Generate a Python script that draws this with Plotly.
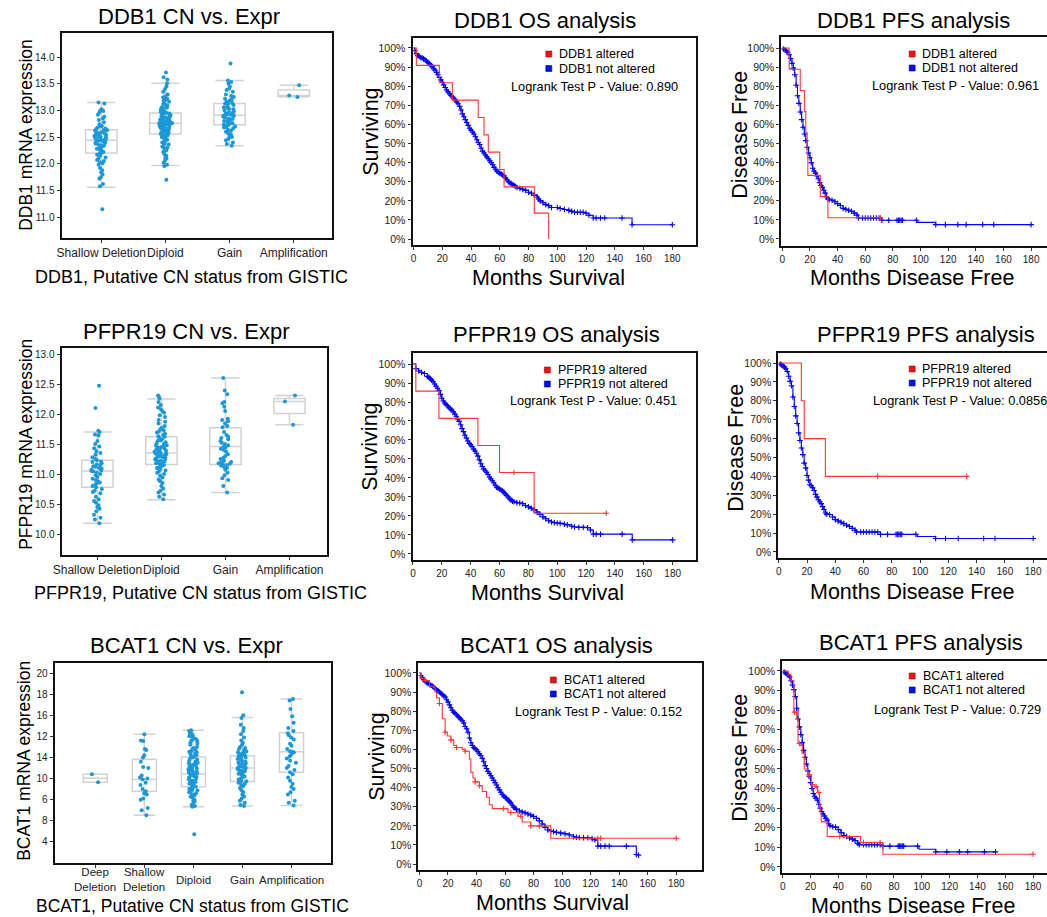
import plotly.graph_objects as go

W, H = 1047, 917
FONT = "Liberation Sans, Arial, Helvetica, sans-serif"
RED = "#ff3636"
BLUE = "#0000ff"
DOT = "#1a98da"

# ------------------------------------------------------------------ data
genes = ["DDB1", "PFPR19", "BCAT1"]
os_pvalues = ["0.890", "0.451", "0.152"]
pfs_pvalues = ["0.961", "0.0856", "0.729"]

cats4 = ["Shallow Deletion", "Diploid", "Gain", "Amplification"]
cats5 = ["Deep Deletion", "Shallow Deletion", "Diploid", "Gain", "Amplification"]
cats5_labels = ["Deep<br>Deletion", "Shallow<br>Deletion", "Diploid", "Gain", "Amplification"]

# DDB1 copy number vs expression
ddb1_q1 = [12.20, 12.56, 12.73, 13.26]
ddb1_med = [12.44, 12.76, 12.91, 13.28]
ddb1_q3 = [12.64, 12.95, 13.13, 13.38]
ddb1_lo = [11.56, 11.97, 12.34, 13.25]
ddb1_hi = [13.15, 13.51, 13.56, 13.47]
ddb1_shallow = [13.15, 13.13, 13.02, 13.0, 12.99, 12.96, 12.92, 12.88, 12.85, 12.82, 12.78, 12.74,
                12.71, 12.70, 12.68, 12.66, 12.65, 12.64, 12.63, 12.62, 12.60, 12.59, 12.58, 12.57,
                12.56, 12.55, 12.54, 12.53, 12.52, 12.51, 12.50, 12.49, 12.48, 12.47, 12.46, 12.45,
                12.44, 12.43, 12.42, 12.41, 12.40, 12.39, 12.38, 12.37, 12.35, 12.34, 12.32, 12.30,
                12.28, 12.26, 12.24, 12.22, 12.20, 12.19, 12.17, 12.15, 12.12, 12.10, 12.07, 12.05,
                12.03, 12.01, 11.98, 11.92, 11.88, 11.84, 11.80, 11.75, 11.72, 11.62, 11.58, 11.15]
ddb1_diploid = [13.71, 13.62, 13.58, 13.51, 13.45, 13.40, 13.35, 13.30, 13.26, 13.24, 13.22, 13.20,
                13.18, 13.16, 13.14, 13.12, 13.10, 13.09, 13.08, 13.06, 13.05, 13.04, 13.02, 13.01,
                13.00, 12.99, 12.98, 12.97, 12.96, 12.95, 12.94, 12.93, 12.92, 12.91, 12.90, 12.89,
                12.88, 12.87, 12.86, 12.85, 12.84, 12.83, 12.82, 12.82, 12.81, 12.80, 12.80, 12.79,
                12.78, 12.78, 12.77, 12.77, 12.76, 12.76, 12.75, 12.75, 12.74, 12.74, 12.73, 12.72,
                12.72, 12.71, 12.70, 12.70, 12.69, 12.68, 12.67, 12.66, 12.65, 12.64, 12.63, 12.62,
                12.61, 12.60, 12.59, 12.58, 12.57, 12.56, 12.55, 12.54, 12.53, 12.52, 12.51, 12.50,
                12.48, 12.46, 12.45, 12.43, 12.42, 12.40, 12.38, 12.36, 12.34, 12.32, 12.30, 12.28,
                12.25, 12.22, 12.18, 12.15, 12.12, 12.10, 12.06, 12.02, 11.98, 11.96, 11.70]
ddb1_gain = [13.88, 13.56, 13.53, 13.50, 13.45, 13.41, 13.38, 13.35, 13.30, 13.27, 13.25, 13.22,
             13.20, 13.18, 13.16, 13.14, 13.13, 13.12, 13.10, 13.08, 13.06, 13.05, 13.03, 13.02,
             13.00, 12.98, 12.97, 12.95, 12.94, 12.93, 12.92, 12.91, 12.90, 12.89, 12.88, 12.87,
             12.85, 12.84, 12.82, 12.81, 12.80, 12.78, 12.77, 12.76, 12.75, 12.74, 12.73, 12.72,
             12.70, 12.69, 12.68, 12.66, 12.64, 12.62, 12.60, 12.57, 12.55, 12.52, 12.50, 12.47,
             12.44, 12.40, 12.37, 12.34]
ddb1_amp = [13.47, 13.28, 13.25]

# PFPR19 copy number vs expression
pfpr19_q1 = [10.78, 11.16, 11.16, 12.01]
pfpr19_med = [11.05, 11.35, 11.46, 12.21]
pfpr19_q3 = [11.23, 11.62, 11.77, 12.26]
pfpr19_lo = [10.18, 10.57, 10.69, 11.82]
pfpr19_hi = [11.70, 12.25, 12.60, 12.31]
pfpr19_shallow = [12.47, 12.10, 11.72, 11.70, 11.66, 11.64, 11.55, 11.50, 11.46, 11.43, 11.38, 11.35,
                  11.32, 11.28, 11.25, 11.23, 11.21, 11.20, 11.18, 11.16, 11.15, 11.13, 11.12, 11.10,
                  11.09, 11.07, 11.06, 11.05, 11.04, 11.02, 11.00, 10.98, 10.95, 10.92, 10.90, 10.88,
                  10.86, 10.85, 10.83, 10.80, 10.78, 10.75, 10.72, 10.70, 10.68, 10.62, 10.58, 10.55,
                  10.52, 10.48, 10.45, 10.42, 10.38, 10.32, 10.27, 10.24, 10.18]
pfpr19_diploid = [12.31, 12.29, 12.26, 12.20, 12.15, 12.11, 12.08, 12.05, 12.02, 11.98, 11.95, 11.90,
                  11.87, 11.84, 11.80, 11.77, 11.75, 11.73, 11.71, 11.69, 11.67, 11.65, 11.63, 11.62,
                  11.60, 11.58, 11.56, 11.55, 11.53, 11.51, 11.50, 11.48, 11.47, 11.46, 11.45, 11.44,
                  11.42, 11.41, 11.40, 11.39, 11.38, 11.37, 11.36, 11.35, 11.35, 11.34, 11.33, 11.32,
                  11.31, 11.30, 11.29, 11.28, 11.27, 11.26, 11.25, 11.24, 11.23, 11.22, 11.21, 11.20,
                  11.19, 11.18, 11.17, 11.16, 11.15, 11.13, 11.12, 11.10, 11.08, 11.06, 11.04, 11.02,
                  11.00, 10.97, 10.94, 10.91, 10.88, 10.85, 10.80, 10.76, 10.72, 10.69, 10.66, 10.62,
                  10.58]
pfpr19_gain = [12.60, 12.39, 12.33, 12.20, 12.18, 12.12, 12.05, 11.92, 11.90, 11.88, 11.84, 11.80,
               11.78, 11.70, 11.65, 11.62, 11.60, 11.58, 11.55, 11.52, 11.50, 11.48, 11.46, 11.44,
               11.42, 11.40, 11.37, 11.33, 11.30, 11.27, 11.25, 11.22, 11.20, 11.19, 11.18, 11.17,
               11.16, 11.15, 11.14, 11.12, 11.10, 11.07, 11.02, 10.98, 10.93, 10.90, 10.80, 10.69]
pfpr19_amp = [12.31, 12.21, 11.82]

# BCAT1 copy number vs expression (values on the plotted axis scale)
bcat1_q1 = [9.64, 8.81, 9.23, 9.73, 10.59]
bcat1_med = [10.02, 9.92, 10.43, 11.00, 12.55]
bcat1_q3 = [10.40, 11.82, 12.05, 12.17, 14.33]
bcat1_lo = [9.64, 6.53, 7.33, 7.39, 7.45]
bcat1_hi = [10.40, 14.20, 14.58, 15.79, 17.53]
bcat1_deep = [10.40, 9.64]
bcat1_shallow = [14.2, 13.6, 13.55, 12.8, 12.7, 12.2, 12.0, 11.6, 11.1, 11.0, 10.3, 10.1, 10.0, 9.9,
                 9.6, 9.4, 9.0, 8.8, 8.6, 8.5, 8.1, 8.0, 7.2, 7.0, 6.53]
bcat1_diploid = [14.58, 14.5, 14.4, 14.3, 14.2, 14.1, 14.0, 13.9, 13.8, 13.7, 13.6, 13.5, 13.4, 13.3,
                 13.2, 13.0, 12.9, 12.8, 12.7, 12.6, 12.55, 12.5, 12.4, 12.3, 12.2, 12.1, 12.05, 12.0,
                 11.9, 11.8, 11.7, 11.6, 11.5, 11.45, 11.4, 11.3, 11.25, 11.2, 11.1, 11.0, 10.95, 10.9,
                 10.85, 10.8, 10.7, 10.65, 10.6, 10.5, 10.45, 10.4, 10.35, 10.3, 10.2, 10.15, 10.1,
                 10.0, 9.9, 9.85, 9.8, 9.7, 9.6, 9.55, 9.5, 9.4, 9.3, 9.25, 9.2, 9.1, 9.0, 8.95, 8.9,
                 8.8, 8.7, 8.6, 8.5, 8.4, 8.3, 8.2, 8.0, 7.9, 7.8, 7.6, 7.5, 7.4, 7.33, 4.73]
bcat1_gain = [18.19, 16.0, 15.75, 15.1, 14.8, 14.5, 14.2, 13.9, 13.6, 13.4, 13.2, 13.0, 12.9, 12.8,
              12.7, 12.6, 12.5, 12.45, 12.4, 12.3, 12.2, 12.15, 12.1, 12.0, 11.9, 11.85, 11.8, 11.7,
              11.6, 11.5, 11.45, 11.4, 11.3, 11.2, 11.15, 11.1, 11.05, 11.0, 10.95, 10.9, 10.8, 10.75,
              10.7, 10.6, 10.5, 10.45, 10.4, 10.3, 10.2, 10.1, 10.0, 9.9, 9.8, 9.75, 9.7, 9.6, 9.5,
              9.4, 9.3, 9.1, 8.9, 8.7, 8.5, 8.3, 8.1, 7.9, 7.7, 7.5, 7.4]
bcat1_amp = [17.53, 17.4, 16.6, 15.9, 15.3, 14.8, 14.5, 14.3, 14.1, 13.9, 13.7, 13.3, 13.1, 12.8,
             12.6, 12.55, 12.5, 12.3, 12.1, 11.9, 11.7, 11.5, 11.2, 11.0, 10.8, 10.6, 10.4, 10.1,
             9.8, 9.5, 9.2, 9.0, 8.7, 8.5, 7.9, 7.7, 7.45]
bcat1_tickvals = [20, 18, 16, 14, 12, 10, 8, 6, 4]
bcat1_ticktext = ["20", "18", "16", "12", "14", "10", "6", "8", "4"]

# Kaplan-Meier curves: time (months), survival (%), censor flag string (1 = censor mark)
ddb1_os_alt_t = [0, 2, 18, 27, 45, 49, 52, 60, 63, 84, 94]
ddb1_os_alt_s = [100, 90.9, 81.8, 72.7, 63.6, 54.5, 45.5, 36.4, 27.3, 13.6, 0]
ddb1_os_alt_c = "00000000000"
ddb1_os_not_t = [0, 1, 2, 3, 4, 5, 6, 7, 8, 9, 10, 11, 12, 13, 14, 15, 16, 17, 18, 19, 20, 21, 22, 23,
                 24, 25, 26, 27, 28, 29, 30, 31, 32, 33, 34, 35, 36, 37, 38, 39, 40, 41, 42, 43, 44,
                 45, 46, 47, 48, 49, 50, 51, 52, 53, 54, 55, 56, 57, 58, 59, 60, 61, 62, 63, 64, 65,
                 66, 67, 68, 69, 70, 71, 72, 74, 76, 78, 80, 82, 84, 86, 87, 88, 90, 92, 94, 96, 100,
                 102, 105, 108, 110, 112, 114, 116, 118, 120, 122, 125, 127, 130, 133, 145, 151, 152, 180]
ddb1_os_not_s = [100, 98.5, 97, 96, 95.5, 95, 94.8, 94.3, 93.8, 93.2, 92.5, 91.8, 91, 90.2, 89.2, 88.3,
                 87.2, 86, 84.6, 83.3, 82, 80.6, 79.3, 78, 77, 76, 75.2, 74.5, 73.6, 72.8, 71.8, 70.8,
                 69.5, 67.5, 65.5, 64, 62.5, 61, 59.5, 58, 57, 56, 55, 53.5, 52, 50.5, 49.5, 47.5, 46,
                 45, 44, 43, 42, 41, 40, 39, 37.5, 36.5, 35.5, 35, 34.5, 34, 33.5, 33, 32, 31, 30, 29.5,
                 29, 28.5, 28, 27.5, 27, 26.5, 26, 25.5, 24.5, 24, 23, 22, 21, 20, 19, 18, 17.5, 16.5,
                 16.5, 16, 15.5, 15, 14.5, 14, 14, 14, 14, 13.5, 12.5, 11, 11, 11, 11, 11, 11, 7.5, 7.5]
ddb1_os_not_c = "0111111111 1111111111 1111111111 1111111111 1111111111 1111111111 1111111111 1111111111 1111111111 1111111111 11011"

ddb1_pfs_alt_t = [0, 5, 13, 16, 17, 18, 18.5, 27.5, 33, 71]
ddb1_pfs_alt_s = [100, 88.9, 77.8, 66.7, 55.6, 44.4, 33.3, 22.2, 11.1, 11.1]
ddb1_pfs_alt_c = "0000000001"
ddb1_pfs_not_t = [0, 1, 2, 3, 4, 5, 6, 7, 8, 9, 10, 11, 12, 13, 14, 15, 16, 17, 18, 19, 20, 21, 22, 23,
                  24, 25, 26, 27, 28, 29, 30, 31, 32, 33, 34, 36, 38, 40, 42, 44, 46, 48, 50, 52, 54,
                  55, 58, 60, 62, 64, 66, 68, 70, 72, 77, 83, 84, 85, 86, 87, 97, 98, 111, 118, 127,
                  133, 145, 153, 180]
ddb1_pfs_not_s = [100, 99.5, 99, 98.5, 97.8, 96.5, 94.5, 92, 89.5, 86, 80.5, 75, 71, 66.5, 62.5, 58.5,
                  55, 51.5, 48, 45, 42.5, 40, 37, 35.5, 34.5, 33, 31.5, 29.5, 28, 27, 25.5, 24, 22, 21,
                  20.5, 20.3, 19.5, 18.5, 17.5, 16, 15.5, 15, 14.5, 13.5, 12.5, 11, 11, 11, 11, 11, 11,
                  11, 11, 9.8, 9.8, 9.8, 9.8, 9.8, 9.8, 9.8, 9.8, 8.7, 7.5, 7.5, 7.5, 7.5, 7.5, 7.5, 7.5]
ddb1_pfs_not_c = "0111111111 1111111111 1111111111 1111111111 1111111111 1111111111 101111111"

pfpr19_os_alt_t = [0, 2, 18, 45, 60, 70, 84, 134]
pfpr19_os_alt_s = [100, 85.7, 71.4, 57.1, 42.9, 42.9, 21.4, 21.4]
pfpr19_os_alt_c = "00000101"
pfpr19_os_not_t = [0, 2, 4, 6, 8, 10, 11, 12, 13, 14, 15, 16, 17, 18, 19, 20, 21, 22, 23, 24, 25, 26,
                   27, 28, 29, 30, 31, 32, 33, 34, 35, 36, 37, 38, 39, 40, 41, 42, 43, 44, 45, 46, 47,
                   48, 49, 50, 51, 52, 53, 54, 55, 56, 57, 58, 59, 60, 61, 62, 63, 64, 65, 66, 67, 68,
                   69, 70, 72, 74, 76, 78, 80, 82, 84, 86, 88, 90, 92, 94, 96, 98, 100, 102, 105, 107,
                   110, 112, 115, 118, 121, 123, 125, 127, 130, 145, 151, 152, 180]
pfpr19_os_not_s = [100, 97.5, 96.3, 95.5, 95, 93.5, 93, 92.3, 91.5, 90.7, 89.5, 88.3, 87.2, 86, 84, 82,
                   80.5, 79.5, 78.6, 78, 77, 76.4, 75.8, 74.8, 73.6, 72.5, 71, 69.8, 68, 66, 64.4, 62.5,
                   61, 59.5, 58.2, 57.5, 56.5, 55.2, 54.2, 53, 51.5, 49.5, 47.5, 46, 44.8, 43.8, 43,
                   41.8, 40.5, 39.5, 38.5, 37.5, 36.2, 35.2, 34.6, 34.2, 33.8, 33.2, 32.4, 31.6, 30.8,
                   30, 29, 28.4, 27.8, 27.5, 27, 26.8, 26.4, 25.5, 24.8, 24, 23.2, 22, 20.8, 19.5, 18.5,
                   17.5, 16.8, 16.5, 16.3, 16.1, 15.6, 15.3, 14.6, 14.2, 14, 14, 13.8, 12.6, 10.4, 10.4,
                   10.4, 10.4, 10.4, 7.4, 7.4]
pfpr19_os_not_c = "0111111111 1111111111 1111111111 1111111111 1111111111 1111111111 1111111111 1111111111 1111111111 1111011"

pfpr19_pfs_alt_t = [0, 16, 18, 33, 70, 133]
pfpr19_pfs_alt_s = [100, 80, 60, 40, 40, 40]
pfpr19_pfs_alt_c = "000011"
pfpr19_pfs_not_t = [0, 1, 2, 3, 4, 5, 6, 7, 8, 9, 10, 11, 12, 13, 14, 15, 16, 17, 18, 19, 20, 21, 22,
                    23, 24, 25, 26, 27, 28, 29, 30, 31, 32, 33, 34, 36, 38, 40, 42, 44, 46, 48, 50, 52,
                    54, 55, 58, 60, 62, 64, 66, 68, 70, 72, 77, 83, 84, 85, 86, 87, 97, 98, 111, 118,
                    127, 145, 153, 180]
pfpr19_pfs_not_s = [100, 99.5, 99, 98.5, 97.8, 97, 95.5, 93, 90.3, 88, 82, 77, 72, 68, 63, 59, 55, 51.5,
                    47, 44.5, 40.5, 38, 35.6, 35, 34, 32.5, 30.5, 29, 27.7, 26.6, 25.6, 24, 22.5, 20.6,
                    20, 19.8, 18.5, 17.1, 16.3, 15.7, 15, 14.1, 13.5, 12.5, 11.5, 10.6, 10.6, 10.6,
                    10.6, 10.6, 10.6, 10.6, 10.6, 9.3, 9.3, 9.3, 9.3, 9.3, 9.3, 9.3, 9.3, 8.2, 7.1, 7.1,
                    7.1, 7.1, 7.1, 7.1]
pfpr19_pfs_not_c = "0111111111 1111111111 1111111111 1111111111 1111111111 1111111111 10111111"

bcat1_os_alt_t = [0, 1, 4, 7, 10, 11, 12, 14, 16, 18, 19.5, 22, 24, 26, 30, 32, 34, 35, 36, 37.5, 39,
                  42, 44, 47, 49, 51, 59, 62, 64, 69, 71, 72, 78, 84, 92, 125, 127, 180]
bcat1_os_alt_s = [100, 97, 96, 93, 92.5, 90, 87, 84, 76, 69, 67, 65, 62, 61, 60, 59, 59, 55, 48, 45, 43,
                  41, 38, 35, 31, 29, 29, 27, 27, 25, 25, 22, 20, 20, 13.5, 13.5, 13.5, 13.5]
bcat1_os_alt_c = "0010000101 0101010000 1100001010 10110111"
bcat1_os_not_t = [0, 1, 2, 3, 4, 5, 6, 7, 8, 9, 10, 11, 12, 13, 14, 15, 16, 17, 18, 19, 20, 21, 22, 23,
                  24, 25, 26, 27, 28, 29, 30, 31, 32, 33, 34, 35, 36, 37, 38, 39, 40, 41, 42, 43, 44,
                  45, 46, 47, 48, 49, 50, 51, 52, 53, 54, 55, 56, 57, 58, 59, 60, 61, 62, 63, 64, 65,
                  66, 67, 68, 70, 72, 74, 76, 78, 80, 82, 84, 86, 88, 90, 92, 94, 96, 99, 102, 105,
                  108, 110, 112, 115, 118, 121, 123, 125, 127, 130, 133, 145, 151, 152, 153.5]
bcat1_os_not_s = [100, 98.5, 97.4, 96.5, 95.6, 95, 94.5, 94, 93.6, 93.2, 92.5, 91.8, 91.2, 90.6, 90,
                  89.4, 88.7, 88, 87.4, 86, 84.8, 83.3, 81.8, 80.5, 79.5, 78.8, 78.1, 77.2, 76.6, 75.8,
                  75, 73.8, 72, 70.8, 69, 66, 63.5, 62, 61, 60.4, 59.8, 58.8, 57.8, 56.8, 55.4, 53.5,
                  51.5, 50, 48.4, 47.5, 46.2, 45, 43.8, 42.6, 41.4, 40, 38.8, 37.6, 36.4, 35.6, 34.9,
                  34.4, 33.6, 32.8, 32, 30.8, 29.8, 29.2, 28.6, 27.8, 27.2, 26.8, 26.2, 25.6, 24.9, 24,
                  22.6, 21, 19.2, 17.8, 17.3, 17, 16.6, 16.2, 15.8, 15.2, 14.3, 14, 13.9, 13.8, 13.8,
                  13.2, 12.6, 9.4, 9.4, 9.4, 9.4, 9.4, 9.4, 5, 4.7]
bcat1_os_not_c = "0111111111 1111111111 1111111111 1111111111 1111111111 1111111111 1111111111 1111111111 1111111111 1111111101 1"

bcat1_pfs_alt_t = [0, 4, 6, 8, 8.5, 10, 11, 12, 13, 14, 15.5, 18, 19, 20.5, 23, 24, 25, 26, 26.5, 27,
                   27.7, 32, 41, 56, 58, 70, 72, 180]
bcat1_pfs_alt_s = [100, 98, 95, 79, 79, 76, 63, 63, 62, 58, 50, 47, 47, 42, 41, 41, 38, 38, 32, 28, 23,
                   15.5, 15.5, 12.5, 12.5, 12.5, 6.5, 6.5]
bcat1_pfs_alt_c = "0000100100 0010010100 00101101"
bcat1_pfs_not_t = [0, 1, 2, 3, 4, 5, 6, 7, 8, 9, 10, 11, 12, 13, 14, 15, 16, 17, 18, 19, 20, 21, 22, 23,
                   24, 25, 26, 27, 28, 29, 30, 31, 32, 33, 34, 36, 38, 40, 42, 44, 46, 48, 50, 52, 54,
                   55, 58, 60, 62, 64, 66, 68, 70, 72, 77, 83, 84, 85, 86, 87, 97, 98, 110, 118, 127,
                   133, 145, 153]
bcat1_pfs_not_s = [100, 99.5, 99, 98.5, 98, 97, 95, 92.8, 90.5, 87, 81, 75.5, 71.5, 67.5, 63.5, 59.5,
                   56, 52.5, 49, 46, 43, 40, 37.5, 35.8, 35, 34, 32, 30, 28.3, 27, 26, 24.8, 23.9, 22,
                   21, 20.5, 20.3, 19, 17.5, 16, 15.5, 14.8, 14.2, 13.4, 12, 11.4, 11.4, 11.4, 11.4,
                   11.4, 11.4, 11.4, 11.4, 10.6, 10.6, 10.6, 10.6, 10.6, 10.6, 10.6, 10.6, 9, 7.7, 7.7,
                   7.7, 7.7, 7.7, 7.7]
bcat1_pfs_not_c = "0111111111 1111111111 1111111111 1111111111 1111111111 1111111111 10111111"

# ------------------------------------------------------------------ figure helpers
fig = go.Figure()
layout_axes = {}
annotations = []
shapes = []


def names(i):
    return ("x" if i == 1 else f"x{i}", "y" if i == 1 else f"y{i}",
            "xaxis" if i == 1 else f"xaxis{i}", "yaxis" if i == 1 else f"yaxis{i}")


def text(t, x, y, size, angle=0, anchor="center", color="black"):
    annotations.append(dict(text=t, x=x / W, y=1 - y / H, xref="paper", yref="paper",
                            xanchor=anchor, yanchor="middle", showarrow=False, textangle=angle,
                            font=dict(family=FONT, size=size, color=color)))


def axis_common(dom, rng, tick_size):
    return dict(domain=dom, range=rng, showgrid=False, zeroline=False, showline=True,
                linecolor="#111", linewidth=2, ticks="outside", ticklen=3, tickcolor="#333",
                tickwidth=1, tickangle=0, tickfont=dict(family=FONT, size=tick_size, color="#222"))


def flags(s):
    return [ch == "1" for ch in s.replace(" ", "")]


def box_panel(i, geom, cats, q1, med, q3, lo, hi, groups, xr, yr, yextra, own_labels=None):
    xa, ya, xk, yk = names(i)
    L, R, T, B = geom
    fig.add_trace(go.Box(x=cats, q1=q1, median=med, q3=q3, lowerfence=lo, upperfence=hi,
                         xaxis=xa, yaxis=ya, boxpoints=False, fillcolor="white",
                         line=dict(color="#d2d2d2", width=1.5), whiskerwidth=0.9,
                         showlegend=False, hoverinfo="skip"))
    for cat, vals in zip(cats, groups):
        fig.add_trace(go.Box(x=[cat] * len(vals), y=vals, xaxis=xa, yaxis=ya, boxpoints="all",
                             jitter=0.45, pointpos=0, fillcolor="rgba(0,0,0,0)",
                             line=dict(width=0, color="rgba(0,0,0,0)"),
                             marker=dict(color=DOT, size=4), showlegend=False, hoverinfo="skip"))
    xd = axis_common([L / W, R / W], xr, 12)
    xd.update(type="category", categoryorder="array", categoryarray=cats, mirror=True, anchor=ya)
    if own_labels is not None:
        # category labels drawn as centred annotations at the category positions
        xd.update(showticklabels=False)
        for k, lab in enumerate(own_labels):
            annotations.append(dict(text=lab, x=k, xref=xa, y=1 - (B + 16.5) / H, yref="paper",
                                    xanchor="center", yanchor="middle", showarrow=False,
                                    font=dict(family=FONT, size=11.5, color="#222")))
    yd = axis_common([1 - B / H, 1 - T / H], yr, 10)
    yd.update(mirror=True, anchor=xa, **yextra)
    layout_axes[xk] = xd
    layout_axes[yk] = yd


def km_panel(i, geom, curves, xr, yr, right_line):
    xa, ya, xk, yk = names(i)
    L, R, T, B = geom
    for t, s, c, color in curves:
        cf = flags(c)
        assert len(t) == len(s) == len(cf), (i, len(t), len(s), len(cf))
        fig.add_trace(go.Scatter(x=t, y=s, mode="lines", xaxis=xa, yaxis=ya,
                                 line=dict(color=color, width=1.1, shape="hv"),
                                 showlegend=False, hoverinfo="skip"))
        fig.add_trace(go.Scatter(x=[a for a, f in zip(t, cf) if f], y=[b for b, f in zip(s, cf) if f],
                                 mode="markers", xaxis=xa, yaxis=ya,
                                 marker=dict(symbol="cross-thin", size=4,
                                             line=dict(color=color, width=1.1)),
                                 showlegend=False, hoverinfo="skip"))
    xd = axis_common([L / W, R / W], xr, 10)
    xd.update(tick0=0, dtick=20, mirror=True, anchor=ya)
    yd = axis_common([1 - B / H, 1 - T / H], yr, 10.5)
    yd.update(tick0=0, dtick=10, ticksuffix="%", mirror=right_line, anchor=xa)
    layout_axes[xk] = xd
    layout_axes[yk] = yd


def km_legend(gene, pval, sq_x, y1, y2, text_x, lr_x, lr_y, lr_anchor="center"):
    for yy, col, edge, lab in ((y1, "#ff1010", "#900000", f"{gene} altered"),
                                (y2, "#0010ff", "#000080", f"{gene} not altered")):
        shapes.append(dict(type="rect", xref="paper", yref="paper",
                           x0=(sq_x - 3) / W, x1=(sq_x + 3) / W, y0=1 - (yy + 3) / H, y1=1 - (yy - 3) / H,
                           fillcolor=col, line=dict(color=edge, width=0.6)))
        text(lab, text_x, yy, 12.5, anchor="left")
    text(f"Logrank Test P - Value: {pval}", lr_x, lr_y, 12.8, anchor=lr_anchor)


# ------------------------------------------------------------------ row 1: DDB1
box_panel(1, (53, 326, 33, 238), cats4, ddb1_q1, ddb1_med, ddb1_q3, ddb1_lo, ddb1_hi,
          [ddb1_shallow, ddb1_diploid, ddb1_gain, ddb1_amp], [-0.62, 3.6], [10.61, 14.45],
          dict(tick0=11, dtick=0.5, tickformat=".1f"))
km_panel(2, (407, 693, 38, 245),
         [(ddb1_os_not_t, ddb1_os_not_s, ddb1_os_not_c, BLUE),
          (ddb1_os_alt_t, ddb1_os_alt_s, ddb1_os_alt_c, RED)], [-0.7, 196.5], [-3.1, 105.2], True)
km_panel(3, (779, 1047, 37, 246),
         [(ddb1_pfs_not_t, ddb1_pfs_not_s, ddb1_pfs_not_c, BLUE),
          (ddb1_pfs_alt_t, ddb1_pfs_alt_s, ddb1_pfs_alt_c, RED)], [-0.7, 191.5], [-3.7, 105.8], False)

# ------------------------------------------------------------------ row 2: PFPR19
box_panel(4, (53, 321, 348, 555), cats4, pfpr19_q1, pfpr19_med, pfpr19_q3, pfpr19_lo, pfpr19_hi,
          [pfpr19_shallow, pfpr19_diploid, pfpr19_gain, pfpr19_amp], [-0.56, 3.59], [9.65, 13.1],
          dict(tick0=10, dtick=0.5, tickformat=".1f"))
km_panel(5, (407, 693, 353, 560),
         [(pfpr19_os_not_t, pfpr19_os_not_s, pfpr19_os_not_c, BLUE),
          (pfpr19_os_alt_t, pfpr19_os_alt_s, pfpr19_os_alt_c, RED)], [-0.3, 196.2], [-3.2, 105.8], True)
km_panel(6, (776, 1047, 353, 558),
         [(pfpr19_pfs_not_t, pfpr19_pfs_not_s, pfpr19_pfs_not_c, BLUE),
          (pfpr19_pfs_alt_t, pfpr19_pfs_alt_s, pfpr19_pfs_alt_c, RED)], [-0.3, 189.8], [-3.2, 105.3], False)

# ------------------------------------------------------------------ row 3: BCAT1
box_panel(7, (46, 325, 663, 863), cats5, bcat1_q1, bcat1_med, bcat1_q3, bcat1_lo, bcat1_hi,
          [bcat1_deep, bcat1_shallow, bcat1_diploid, bcat1_gain, bcat1_amp], [-0.83, 4.81], [2.0, 20.95],
          dict(tickmode="array", tickvals=bcat1_tickvals, ticktext=bcat1_ticktext),
          own_labels=cats5_labels)
km_panel(8, (413, 699, 663, 870),
         [(bcat1_os_not_t, bcat1_os_not_s, bcat1_os_not_c, BLUE),
          (bcat1_os_alt_t, bcat1_os_alt_s, bcat1_os_alt_c, RED)], [-0.7, 198], [-3.1, 105.2], True)
km_panel(9, (780, 1047, 661, 873),
         [(bcat1_pfs_not_t, bcat1_pfs_not_s, bcat1_pfs_not_c, BLUE),
          (bcat1_pfs_alt_t, bcat1_pfs_alt_s, bcat1_pfs_alt_c, RED)], [-0.3, 190], [-3.1, 105.1], False)

# ------------------------------------------------------------------ texts
TS = 22
text(f"{genes[0]} CN vs. Expr", 182, 17, TS)
text(f"{genes[0]} OS analysis", 541, 20, TS)
text(f"{genes[0]} PFS analysis", 912, 20, TS)
text(f"{genes[1]} CN vs. Expr", 179, 331, TS)
text(f"{genes[1]} OS analysis", 552, 335, TS)
text(f"{genes[1]} PFS analysis", 925, 335, TS)
text(f"{genes[2]} CN vs. Expr", 179, 645, TS)
text(f"{genes[2]} OS analysis", 552, 645, TS)
text(f"{genes[2]} PFS analysis", 920, 642, TS)

text(f"{genes[0]} mRNA expression", 17, 135, 17.5, angle=-90)
text(f"{genes[1]} mRNA expression", 17, 444, 17.5, angle=-90)
text(f"{genes[2]} mRNA expression", 15, 761, 17.5, angle=-90)
text(f"{genes[0]}, Putative CN status from GISTIC", 184, 277, 18)
text(f"{genes[1]}, Putative CN status from GISTIC", 193, 593, 18)
text(f"{genes[2]}, Putative CN status from GISTIC", 185, 906, 17.5)

KS = 21.5
text("Months Survival", 544, 278, KS)
text("Months Disease Free", 911, 278, KS)
text("Months Survival", 543, 593, KS)
text("Months Disease Free", 911, 592, KS)
text("Months Survival", 548, 903, KS)
text("Months Disease Free", 912, 906, KS)
text("Surviving", 365, 132, KS, angle=-90)
text("Disease Free", 737, 135, KS, angle=-90)
text("Surviving", 364, 447, KS, angle=-90)
text("Disease Free", 733, 448, KS, angle=-90)
text("Surviving", 371, 757, KS, angle=-90)
text("Disease Free", 737, 758, KS, angle=-90)

km_legend(genes[0], os_pvalues[0], 544.5, 54, 68.5, 553, 590.5, 86)
km_legend(genes[0], pfs_pvalues[0], 911, 54, 68, 919, 955, 85)
km_legend(genes[1], os_pvalues[1], 543, 370, 384, 552, 589.5, 401)
km_legend(genes[1], pfs_pvalues[1], 911, 369, 383, 919, 869, 401, lr_anchor="left")
km_legend(genes[2], os_pvalues[2], 549, 680, 694, 558, 595, 711)
km_legend(genes[2], pfs_pvalues[2], 911, 676, 690, 920, 957, 709)

fig.update_layout(
    width=W, height=H, margin=dict(l=0, r=0, t=0, b=0),
    paper_bgcolor="white", plot_bgcolor="white", boxmode="overlay", boxgap=0.3,
    showlegend=False, annotations=annotations, shapes=shapes,
    font=dict(family=FONT, color="#111"), **layout_axes)

fig.write_html("out.html", config={"displayModeBar": False})
